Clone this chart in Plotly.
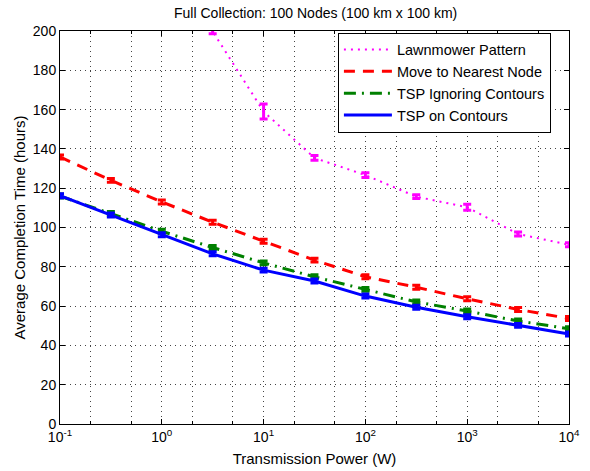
import plotly.graph_objects as go

power = [0.1, 0.316, 1, 3.16, 10, 31.6, 100, 316, 1000, 3162, 10000]

lawnmower = [420, 330, 260, 199.8, 159, 135.4, 126.7, 115.7, 110.3, 96.7, 91.2]
lawnmower_err = [2, 2, 2, 1.2, 3.8, 1.2, 1.2, 1.0, 1.5, 1.0, 1.0]
nearest = [135.9, 124.0, 113.0, 102.7, 93.0, 83.4, 74.9, 69.6, 63.7, 58.3, 53.7]
nearest_err = [1.0] * 11
tsp_ignore = [116.0, 107.2, 98.1, 89.8, 82.0, 74.9, 68.5, 62.1, 57.5, 52.4, 48.5]
tsp_ignore_err = [1.0] * 11
tsp_contour = [116.2, 106.4, 96.3, 86.6, 78.3, 72.8, 65.1, 59.4, 54.6, 50.2, 45.8]
tsp_contour_err = [1.0] * 11

names = ["Lawnmower Pattern", "Move to Nearest Node", "TSP Ignoring Contours", "TSP on Contours"]
colors = ["#ff00ff", "#ff0000", "#008000", "#0000ff"]
dashes = ["2px,5px", "11px,8px", "12px,6px,2px,6px", "solid"]
widths = [2, 3, 3, 3]
series = [(lawnmower, lawnmower_err), (nearest, nearest_err),
          (tsp_ignore, tsp_ignore_err), (tsp_contour, tsp_contour_err)]

xtickvals = [0.1, 1, 10, 100, 1000, 10000]
xticktext = ["10<sup>-1</sup>", "10<sup>0</sup>", "10<sup>1</sup>",
             "10<sup>2</sup>", "10<sup>3</sup>", "10<sup>4</sup>"]
ytickvals = list(range(0, 201, 20))

fig = go.Figure()
for (vals, errs), name, c, d, w in zip(series, names, colors, dashes, widths):
    fig.add_trace(go.Scatter(
        x=power, y=vals, name=name, mode="lines",
        line=dict(color=c, dash=d, width=w),
        error_y=dict(type="data", array=errs, visible=True, color=c,
                     thickness=3, width=4),
    ))

FONT = "Liberation Sans, Arial, Helvetica, sans-serif"
fig.update_layout(
    width=590, height=471,
    margin=dict(l=60, r=21, t=31, b=47),
    paper_bgcolor="white", plot_bgcolor="white",
    font=dict(family=FONT, size=14, color="black"),
    title=dict(text="Full Collection: 100 Nodes (100 km x 100 km)",
               x=0.535, xanchor="center", y=0.972, yanchor="middle",
               font=dict(size=14), automargin=False),
    showlegend=True,
    legend=dict(x=0.546, y=0.996, xanchor="left", yanchor="top",
                bgcolor="white", bordercolor="black", borderwidth=1,
                font=dict(size=14.5), tracegroupgap=0, itemwidth=48),
    xaxis=dict(
        type="log", range=[-1, 4], tickvals=xtickvals, ticktext=xticktext,
        showline=True, linecolor="black", linewidth=1, mirror="ticks",
        ticks="inside", ticklen=5, tickcolor="black",
        showgrid=True, gridcolor="#444", gridwidth=1, griddash="1px,4px",
        minor=dict(ticks="inside", ticklen=3, tickcolor="black",
                   showgrid=True, gridcolor="#444", gridwidth=1, griddash="1px,4px"),
        zeroline=False, automargin=False,
        title=dict(text="Transmission Power (W)", standoff=9, font=dict(size=15)),
        tickfont=dict(size=14),
    ),
    yaxis=dict(
        range=[0, 200], tickvals=ytickvals,
        showline=True, linecolor="black", linewidth=1, mirror="ticks",
        ticks="inside", ticklen=5, tickcolor="black",
        showgrid=True, gridcolor="#444", gridwidth=1, griddash="1px,4px",
        zeroline=False, automargin=False,
        title=dict(text="Average Completion Time (hours)", standoff=3, font=dict(size=15)),
        tickfont=dict(size=14),
    ),
)

fig.write_html("out.html")
